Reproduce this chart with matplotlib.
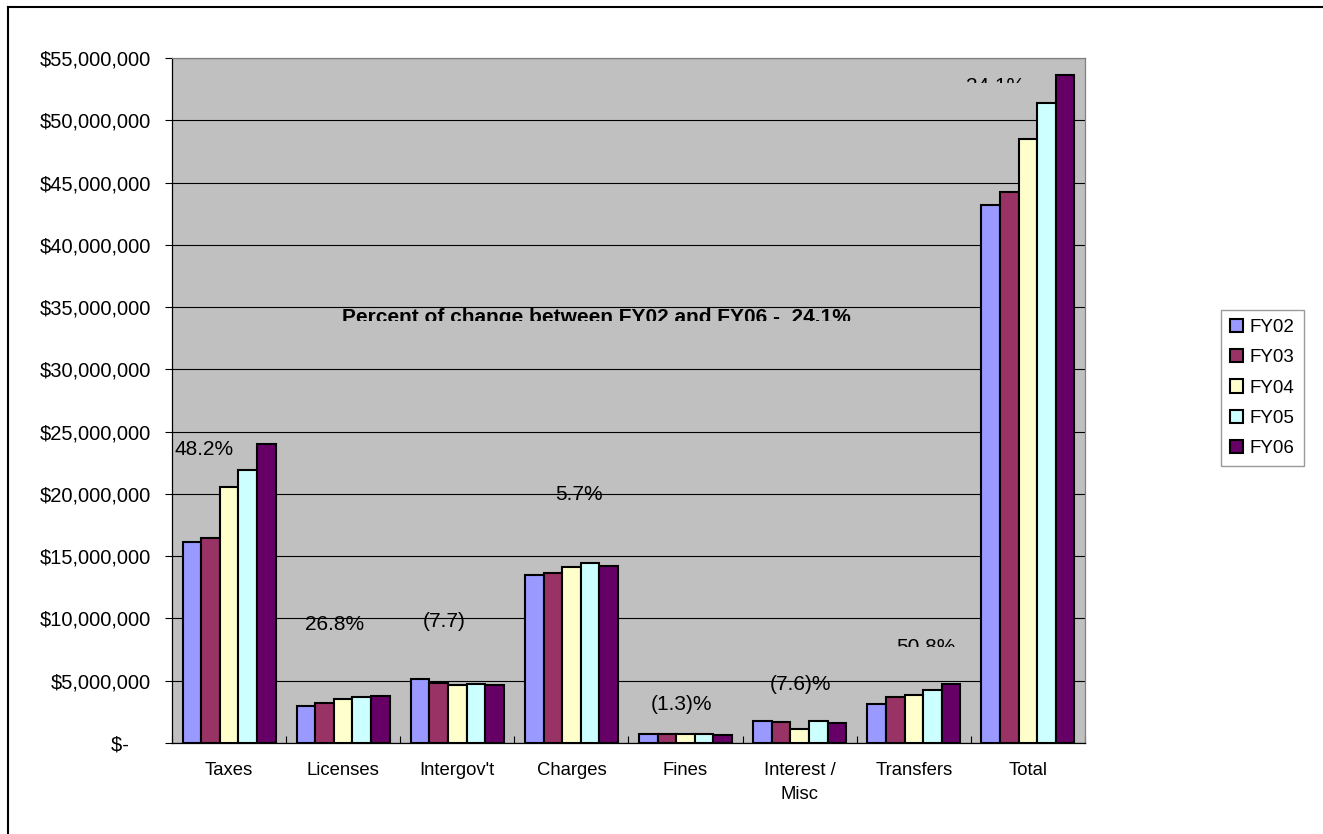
import numpy as np
import matplotlib.pyplot as plt
from matplotlib.lines import Line2D
from matplotlib.transforms import Bbox, TransformedBbox
from matplotlib.ticker import FuncFormatter, MultipleLocator

plt.rcParams['font.family'] = ['Liberation Sans', 'DejaVu Sans']

categories = ["Taxes", "Licenses", "Intergov't", "Charges", "Fines",
              "Interest /\nMisc", "Transfers", "Total"]
years = ["FY02", "FY03", "FY04", "FY05", "FY06"]
colors = ["#9999FF", "#993366", "#FFFFCC", "#CCFFFF", "#660066"]

fy02 = [16.16e6, 2.97e6, 5.14e6, 13.48e6, 0.70e6, 1.77e6, 3.17e6, 43.19e6]
fy03 = [16.43e6, 3.21e6, 4.80e6, 13.69e6, 0.70e6, 1.69e6, 3.72e6, 44.21e6]
fy04 = [20.52e6, 3.53e6, 4.66e6, 14.12e6, 0.70e6, 1.15e6, 3.88e6, 48.50e6]
fy05 = [21.92e6, 3.69e6, 4.74e6, 14.49e6, 0.70e6, 1.77e6, 4.23e6, 51.40e6]
fy06 = [23.98e6, 3.80e6, 4.69e6, 14.23e6, 0.64e6, 1.63e6, 4.77e6, 53.60e6]
series = [fy02, fy03, fy04, fy05, fy06]

# percent change labels: text, x (category units), baseline y, clip bottom (None = no clip)
pct_text = ["48.2%", "26.8%", "(7.7)", "5.7%", "(1.3)%", "(7.6)%", "50.8%", "24.1%"]
pct_x = [-0.474, 0.666, 1.697, 2.857, 3.695, 4.741, 5.845, 6.456]
pct_y = [23.13e6, 9.07e6, 9.34e6, 19.51e6, 2.65e6, 4.26e6, 7.23e6, 52.30e6]
pct_clip = [None, None, None, None, None, None, 7.71e6, 52.96e6]

fig = plt.figure(figsize=(13.23, 8.34), dpi=100)
ax = fig.add_axes([0.1300, 0.1091, 0.6901, 0.8213])
ax.set_facecolor("#C0C0C0")

x = np.arange(len(categories))
bw = 0.163
for i, (vals, name, c) in enumerate(zip(series, years, colors)):
    ax.bar(x + (i - 2) * bw, vals, bw, color=c, edgecolor="black",
           linewidth=1.5, label=name, zorder=3)

ax.set_xlim(-0.5, len(categories) - 0.5)
ax.set_ylim(0, 55e6)
ax.yaxis.set_major_locator(MultipleLocator(5e6))
ax.yaxis.grid(True, color="black", linewidth=0.8, zorder=1)
ax.set_axisbelow(True)


def money(v, _):
    if v == 0:
        return "$-    "
    return f"${v:,.0f}"


ax.yaxis.set_major_formatter(FuncFormatter(money))
ax.tick_params(axis="y", direction="out", length=5, width=0.8,
               labelsize=14.5, pad=10)

ax.set_xticks(x)
ax.set_xticklabels(categories, fontsize=13.3, linespacing=1.55)
ax.tick_params(axis="x", which="major", length=0, pad=13.5)
ax.set_xticks(np.arange(-0.5, len(categories)), minor=True)
ax.tick_params(axis="x", which="minor", direction="in", length=5, width=0.8)

for side in ["top", "right"]:
    ax.spines[side].set_color("#808080")
for side in ["left", "bottom"]:
    ax.spines[side].set_color("black")
for s in ax.spines.values():
    s.set_linewidth(0.9)

for t, px, py, cb in zip(pct_text, pct_x, pct_y, pct_clip):
    txt = ax.text(px, py, t, fontsize=15, ha="left", va="baseline", zorder=5)
    if cb is not None:
        txt.set_clip_on(True)
        txt.set_clip_box(TransformedBbox(Bbox([[px - 0.2, cb], [px + 1.5, 60e6]]),
                                         ax.transData))

title = ax.text(0.987, 33.72e6, "Percent of change between FY02 and FY06 -  24.1%",
                fontsize=15, fontweight="bold", ha="left", va="baseline", zorder=5)
title.set_clip_on(True)
title.set_clip_box(TransformedBbox(Bbox([[0.8, 33.88e6], [7.5, 40e6]]), ax.transData))

leg = fig.legend(loc="center left", bbox_to_anchor=(0.9155, 0.5348), fontsize=13.5,
                 frameon=True, fancybox=False, edgecolor="#808080",
                 handlelength=0.7, handleheight=0.7, labelspacing=0.7,
                 handletextpad=0.35, borderpad=0.5)
leg.get_frame().set_linewidth(1.0)

# chart frame
fig.add_artist(Line2D([8 / 1323, 1.0], [1 - 7 / 834, 1 - 7 / 834],
                      transform=fig.transFigure, color="black", linewidth=1.5))
fig.add_artist(Line2D([8 / 1323, 8 / 1323], [0.0, 1 - 7 / 834],
                      transform=fig.transFigure, color="black", linewidth=1.5))

fig.savefig("out.png", dpi=100)
